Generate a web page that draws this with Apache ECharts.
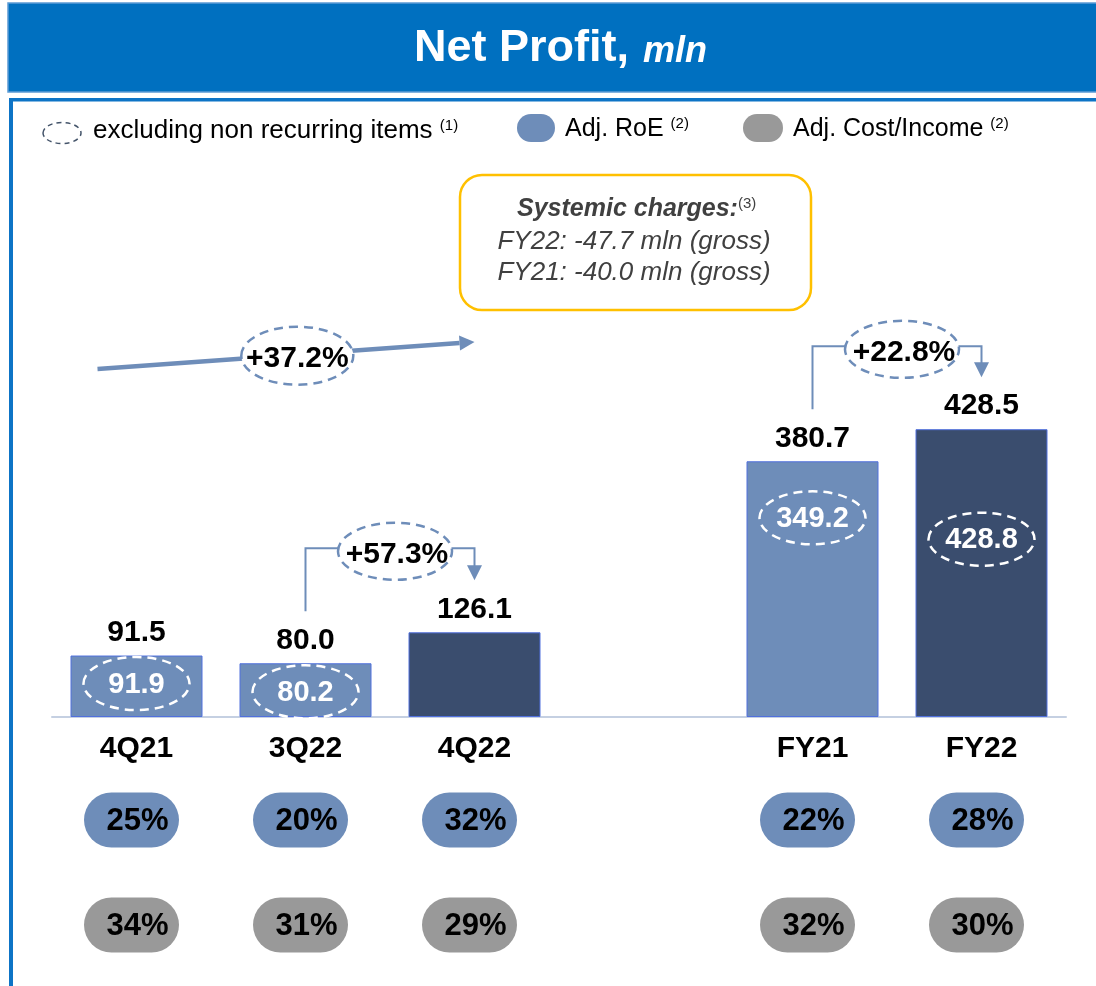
<!DOCTYPE html>
<html>
<head>
<meta charset="utf-8">
<title>Net Profit, mln</title>
<script src="https://cdn.jsdelivr.net/npm/echarts@6/dist/echarts.min.js"></script>
<style>
  html, body { margin: 0; padding: 0; background: #fff; }
  #chart { width: 1096px; height: 986px; }
</style>
</head>
<body>
<div id="chart"></div>
<script>
// periods, the empty slot is the gap between quarters and full years
const categories = ['4Q21', '3Q22', '4Q22', '', 'FY21', 'FY22'];
// reported net profit, mln
const netProfit = [91.5, 80.0, 126.1, null, 380.7, 428.5];
// excluding non recurring items, mln
const netProfitExcl = [91.9, 80.2, null, null, 349.2, 428.8];
// Adj. RoE and Adj. Cost/Income, %
const adjRoe = [25, 20, 32, null, 22, 28];
const adjCostIncome = [34, 31, 29, null, 32, 30];
// growth callouts between periods [from, to]
const growthPairs = [[0, 2], [1, 2], [4, 5]];
const growthLabels = ['+37.2%', '+57.3%', '+22.8%'];
const systemicCharges = ['FY22: -47.7 mln (gross)', 'FY21: -40.0 mln (gross)'];

const FONT = 'Liberation Sans, Arial, sans-serif';
const LIGHT = '#6E8DB9';
const DARK = '#3A4D6E';
const GREY = '#999999';
const currentPeriods = ['4Q22', 'FY22'];
// where the dashed "excluding" ellipse sits, px below the bar top
const exclOffset = { 0: 28, 1: 28.5, 4: 56.5, 5: 110 };

const toPoints = arr => arr.map((v, i) => (v == null ? null : [i, v])).filter(Boolean);

const chart = echarts.init(document.getElementById('chart'));

function dashedEllipse(cx, cy, rx, ry, stroke, fill) {
  return {
    type: 'ellipse',
    shape: { cx: cx, cy: cy, rx: rx, ry: ry },
    style: { fill: fill || 'transparent', stroke: stroke, lineWidth: 2.5, lineDash: [9, 6] }
  };
}

function boldText(x, y, text, size, color) {
  return {
    type: 'text', x: x, y: y,
    style: {
      text: text, fill: color, fontSize: size, fontWeight: 'bold', fontFamily: FONT,
      align: 'center', verticalAlign: 'middle'
    }
  };
}

// white dashed ellipses inside bars
function renderExcl(params, api) {
  const i = api.value(0);
  const top = api.coord([i, netProfit[i]]);
  const cx = top[0], cy = top[1] + exclOffset[i];
  return {
    type: 'group',
    children: [
      dashedEllipse(cx, cy, 53, 26.5, '#ffffff'),
      boldText(cx, cy + 1, api.value(1).toFixed(1), 29, '#ffffff')
    ]
  };
}

// rounded pills under the axis
function renderPill(rowOffset, color) {
  return function (params, api) {
    const i = api.value(0);
    const base = api.coord([i, 0]);
    const cx = base[0], cy = base[1] + rowOffset;
    return {
      type: 'group',
      children: [
        { type: 'rect', shape: { x: cx - 52.5, y: cy - 27.5, width: 95, height: 55, r: 27.5 }, style: { fill: color } },
        boldText(cx + 1, cy + 1, api.value(1) + '%', 31, '#000000')
      ]
    };
  };
}

// growth arrows
function renderGrowth(params, api) {
  const k = params.dataIndex;
  const a = api.value(0), b = api.value(1);
  const label = growthLabels[k];
  const lineStyle = { stroke: LIGHT, lineWidth: 2, fill: 'transparent' };
  if (k === 0) {
    // long straight arrow
    const x1 = api.coord([a, 0])[0] - 39, y1 = 369;
    const x2 = api.coord([b, 0])[0], y2 = 342;
    const len = Math.hypot(x2 - x1, y2 - y1);
    const ux = (x2 - x1) / len, uy = (y2 - y1) / len;
    const hx = x2 - ux * 15, hy = y2 - uy * 15;
    const t = 0.53;
    const ex = x1 + (x2 - x1) * t, ey = y1 + (y2 - y1) * t + 1;
    return {
      type: 'group',
      children: [
        { type: 'line', shape: { x1: x1, y1: y1, x2: hx, y2: hy }, style: { stroke: LIGHT, lineWidth: 4.5 } },
        { type: 'polygon', shape: { points: [[x2, y2], [hx - uy * 7.5, hy + ux * 7.5], [hx + uy * 7.5, hy - ux * 7.5]] }, style: { fill: LIGHT } },
        dashedEllipse(ex, ey, 56, 29, LIGHT, '#ffffff'),
        boldText(ex, ey + 3, label, 30, '#000000')
      ]
    };
  }
  const p1 = api.coord([a, netProfit[a]]);
  const p2 = api.coord([b, netProfit[b]]);
  const hy = p1[1] - 115;
  const tipY = p2[1] - 52;
  const ex = (p1[0] + p2[0]) / 2 + 5, ey = hy + 3;
  return {
    type: 'group',
    children: [
      { type: 'polyline', shape: { points: [[p1[0], p1[1] - 52], [p1[0], hy], [p2[0], hy], [p2[0], tipY - 14]] }, style: lineStyle },
      { type: 'polygon', shape: { points: [[p2[0] - 7.5, tipY - 15], [p2[0] + 7.5, tipY - 15], [p2[0], tipY]] }, style: { fill: LIGHT } },
      dashedEllipse(ex, ey, 57, 28.5, LIGHT, '#ffffff'),
      boldText(ex + 2, ey + 3, label, 30, '#000000')
    ]
  };
}

function legendText(x, y, main, sup, size) {
  return {
    type: 'text', x: x, y: y,
    style: {
      text: '{t|' + main + ' }{s|' + sup + '}',
      verticalAlign: 'middle', align: 'left',
      rich: {
        t: { fontSize: size, fontFamily: FONT, fill: '#000000', lineHeight: 26 },
        s: { fontSize: 15, fontFamily: FONT, fill: '#000000', verticalAlign: 'top', lineHeight: 16 }
      }
    }
  };
}

chart.setOption({
  animation: false,
  grid: { left: 52, right: 30, top: 314, bottom: 269, outerBoundsMode: 'none' },
  xAxis: {
    type: 'category',
    data: categories,
    axisLine: { lineStyle: { color: '#C5D0E2', width: 2 } },
    axisTick: { show: false },
    axisLabel: { color: '#000', fontSize: 30, fontWeight: 'bold', fontFamily: FONT, margin: 17, lineHeight: 30 }
  },
  yAxis: { type: 'value', min: 0, max: 600, show: false },
  series: [
    {
      type: 'bar',
      data: netProfit.map(v => (v == null ? '-' : v)),
      barWidth: 132,
      itemStyle: {
        color: p => (currentPeriods.includes(p.name) ? DARK : LIGHT),
        borderColor: p => (currentPeriods.includes(p.name) ? '#6E8DB9' : '#7F9CC4'),
        borderWidth: 1
      },
      label: {
        show: true, position: 'top', distance: 8,
        color: '#000', fontSize: 30, fontWeight: 'bold', fontFamily: FONT, lineHeight: 30,
        formatter: p => p.value.toFixed(1)
      }
    },
    { type: 'custom', z: 3, data: toPoints(netProfitExcl), renderItem: renderExcl },
    { type: 'custom', z: 3, data: toPoints(adjRoe), renderItem: renderPill(103, LIGHT) },
    { type: 'custom', z: 3, data: toPoints(adjCostIncome), renderItem: renderPill(208, GREY) },
    { type: 'custom', z: 3, data: growthPairs, encode: { x: [0, 1] }, renderItem: renderGrowth }
  ],
  graphic: { elements: [
    // title banner
    { type: 'rect', shape: { x: 8, y: 3, width: 1090, height: 89 }, style: { fill: '#0070C0', stroke: '#5B9BD5', lineWidth: 1.5 } },
    { type: 'text', x: 414, y: 49, style: { text: 'Net Profit,', fill: '#fff', fontSize: 45, fontWeight: 'bold', fontFamily: FONT, align: 'left', verticalAlign: 'middle' } },
    { type: 'text', x: 643, y: 52, style: { text: 'mln', fill: '#fff', fontSize: 36, fontWeight: 'bold', fontStyle: 'italic', fontFamily: FONT, align: 'left', verticalAlign: 'middle' } },
    // frame
    { type: 'rect', shape: { x: 9, y: 98, width: 1090, height: 3.5 }, style: { fill: '#0D74C6' } },
    { type: 'rect', shape: { x: 9, y: 98, width: 4, height: 890 }, style: { fill: '#0D74C6' } },
    // legend
    { type: 'ellipse', shape: { cx: 62, cy: 133, rx: 19, ry: 10.5 }, style: { fill: 'transparent', stroke: '#44546A', lineWidth: 1.5, lineDash: [5, 4] } },
    legendText(93, 131, 'excluding non recurring items', '(1)', 26),
    { type: 'rect', shape: { x: 517, y: 114, width: 38, height: 28, r: 14 }, style: { fill: LIGHT } },
    legendText(565, 129, 'Adj. RoE', '(2)', 25),
    { type: 'rect', shape: { x: 743, y: 114, width: 40, height: 28, r: 14 }, style: { fill: GREY } },
    legendText(793, 129, 'Adj. Cost/Income', '(2)', 25),
    // systemic charges box
    { type: 'rect', shape: { x: 460, y: 175, width: 351, height: 135, r: 22 }, style: { fill: '#fff', stroke: '#FFC000', lineWidth: 2.5 } },
    {
      type: 'text', x: 517, y: 209,
      style: {
        text: '{b|Systemic charges:}{s|(3)}', align: 'left', verticalAlign: 'middle',
        rich: {
          b: { fontSize: 25, fontWeight: 'bold', fontStyle: 'italic', fontFamily: FONT, fill: '#404040', lineHeight: 26 },
          s: { fontSize: 15, fontFamily: FONT, fill: '#404040', verticalAlign: 'top', lineHeight: 16 }
        }
      }
    },
    { type: 'text', x: 634, y: 242, style: { text: systemicCharges[0], fill: '#404040', fontSize: 26, fontStyle: 'italic', fontFamily: FONT, align: 'center', verticalAlign: 'middle' } },
    { type: 'text', x: 634, y: 273, style: { text: systemicCharges[1], fill: '#404040', fontSize: 26, fontStyle: 'italic', fontFamily: FONT, align: 'center', verticalAlign: 'middle' } }
  ] }
});
</script>
</body>
</html>
